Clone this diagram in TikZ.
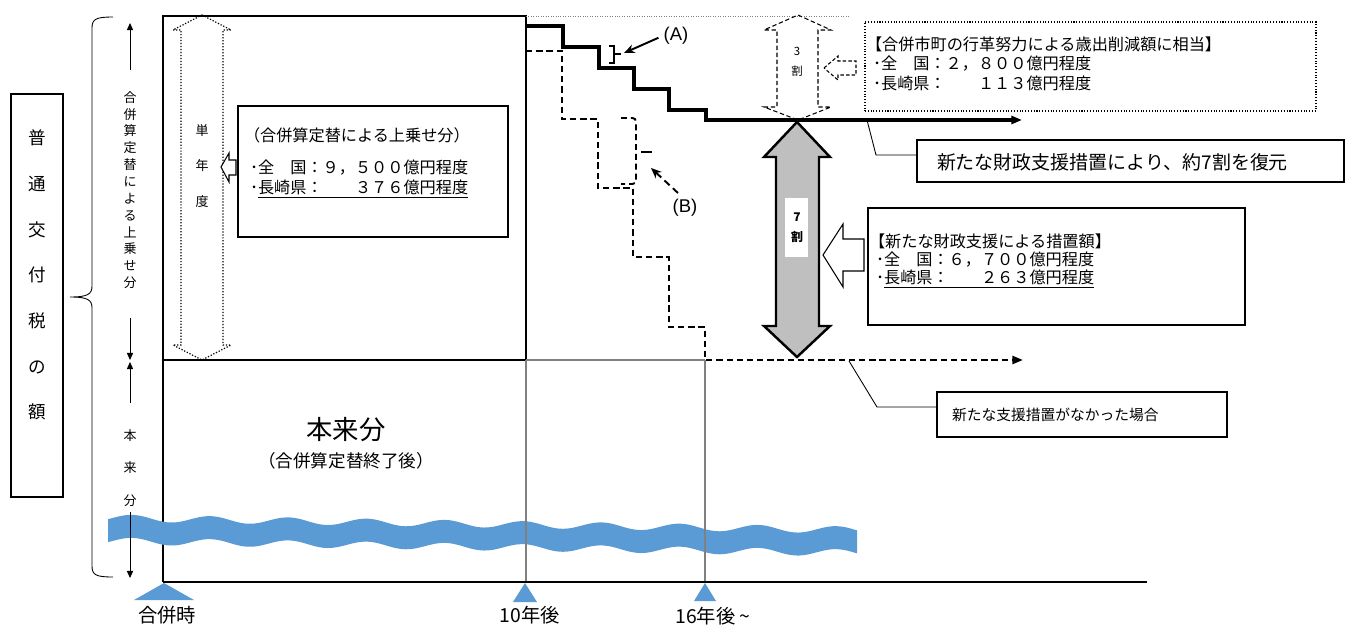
\documentclass[tikz,border=0pt]{standalone}
\usepackage{fontspec}
\setmainfont{Noto Sans CJK JP}
\newfontfamily\latinfont{Liberation Sans}
\usetikzlibrary{arrows.meta,fit}
\definecolor{wavec}{HTML}{5B9BD5}
\definecolor{linegray}{HTML}{808080}
\definecolor{arrowgray}{HTML}{BFBFBF}
\newcommand{\myfs}[2]{\fontsize{#1}{#2}\selectfont}
\begin{document}
\begin{tikzpicture}[x=0.02cm,y=-0.02cm,
  every node/.style={inner sep=0pt, outer sep=0pt},
  boxline/.style={draw, line width=0.6pt},
  heavy/.style={line width=1.2pt},
  stair/.style={line width=2pt, line join=miter},
  dstair/.style={line width=1.4pt, dash pattern=on 3.6pt off 2.2pt},
  thinarrow/.style={line width=0.5pt, -{Triangle[length=4pt,width=3.5pt]}},
  endarrow/.style={-{Triangle[length=6pt,width=4.5pt]}},
  greyline/.style={draw=linegray, line width=0.8pt},
  boxtext/.style={anchor=west, font=\myfs{9.2}{11}},
  blockline/.style={line width=0.6pt, fill=white, line join=miter}
]
\useasboundingbox (0,0) rectangle (1346,626);

% ---- left label box
\node[fit={(11,94) (63,497)}, draw, line width=0.9pt] (sumbox) {};
\node[font=\myfs{10}{26}, align=center] (sumtxt) at (37,275) {普\\通\\交\\付\\税\\の\\額};

% ---- brace
\draw[line width=0.5pt] (113,17) .. controls (96,17) and (92,19) .. (92,28) -- (92,286)
  .. controls (92,294) and (88,297) .. (70,297)
  .. controls (88,297) and (92,300) .. (92,308) -- (92,566)
  .. controls (92,575) and (96,577) .. (113,577);

% ---- main frame
\draw[heavy] (163,16) rectangle (526,360);
\draw[heavy] (163,360) -- (163,582);
\draw[greyline] (526,360) -- (705,360);
\draw[line width=0.4pt, linegray, densely dotted] (526,16) -- (850,16);

% ---- wave band
\fill[wavec] plot[domain=108:857, samples=220] (\x, {518+0.016*(\x-108)-3.5*cos(4.6*(\x-210))})
  -- plot[domain=857:108, samples=220] (\x, {541+0.016*(\x-108)-3.5*cos(4.6*(\x-210))}) -- cycle;

\draw[greyline] (526,360) -- (526,582);
\draw[greyline] (705,360) -- (705,582);
\draw[line width=1.3pt] (163,582) -- (1147,582);

% ---- axis markers
\fill[wavec] (164,583) -- (194,600) -- (134,600) -- cycle;
\fill[wavec] (525,583) -- (537,602) -- (513,602) -- cycle;
\fill[wavec] (705,583) -- (716,601) -- (694,601) -- cycle;
\node[font=\myfs{11}{13}] (t0) at (167,615) {合併時};
\node[font=\myfs{11}{13}] (t10) at (530,615) {10年後};
\node[font=\myfs{11}{13}] (t16) at (713,616) {16年後 {\textasciitilde}};

% ---- left vertical arrows and labels
\coordinate (a1s) at (130,70);  \coordinate (a1e) at (130,23);
\coordinate (a2s) at (130,318); \coordinate (a2e) at (130,360);
\coordinate (a3s) at (130,403); \coordinate (a3e) at (130,362);
\coordinate (a4s) at (130,512); \coordinate (a4e) at (130,578);
\draw[thinarrow] (a1s) -- (a1e);
\draw[thinarrow] (a2s) -- (a2e);
\draw[thinarrow] (a3s) -- (a3e);
\draw[thinarrow] (a4s) -- (a4e);
\node[font=\myfs{7.4}{9.6}, align=center] (vt1) at (130,190) {合\\併\\算\\定\\替\\に\\よ\\る\\上\\乗\\せ\\分};
\node[font=\myfs{7.4}{18.4}, align=center] (vt2) at (130,468) {本\\来\\分};

% ---- single-year dotted double arrow
\draw[line width=0.7pt, densely dotted, line join=miter] (202,15) -- (231,30) -- (223,30) -- (223,345) -- (231,345)
  -- (202,360) -- (173,345) -- (181,345) -- (181,30) -- (173,30) -- cycle;
\node[font=\myfs{7.4}{20.4}, align=center] (vt3) at (202,166) {単\\年\\度};
\draw[blockline] (221,167) -- (229,153) -- (229,160) -- (236,160) -- (236,175) -- (229,175) -- (229,182) -- cycle;

% ---- box 1
\node[fit={(238,106) (508,237)}, boxline] (box1) {};
\node[boxtext] (b1t) at (244,135) {（合併算定替による上乗せ分）};
\node[boxtext] (b1a) at (250,168) {･全　国：９，５００億円程度};
\node[boxtext] (b1b) at (250,189) {･\underline{長崎県：　　３７６億円程度}};

% ---- base part label
\node[font=\myfs{15}{17}] (hon) at (346,430) {本来分};
\node[font=\myfs{10}{12}] (honsub) at (346,461) {（合併算定替終了後）};

% ---- solid staircase
\draw[stair, endarrow] (526,26) -- (563,26) -- (563,47) -- (599,47) -- (599,68) -- (634,68) -- (634,89)
  -- (669,89) -- (669,110) -- (706,110) -- (706,120) -- (1022,120);
% ---- dashed staircase
\draw[dstair, endarrow] (526,51) -- (562,51) -- (562,119) -- (598,119) -- (598,188) -- (633,188) -- (633,257)
  -- (669,257) -- (669,327) -- (705,327) -- (705,360) -- (1023,360);

% ---- (A)
\draw[line width=1.1pt, line join=miter] (609,46) -- (614,46) -- (614,63) -- (609,63);
\draw[line width=1.1pt] (614,54) -- (621,54);
\node[font=\latinfont\myfs{10.5}{12}] (labA) at (676,36) {(A)};
\coordinate (bracketA) at (624,53);
\draw[line width=1.1pt, -{Stealth[length=6pt,width=5pt]}] ([xshift=-3pt,yshift=-1pt]labA.west) -- (bracketA);

% ---- (B)
\draw[line width=1.1pt, dash pattern=on 3.4pt off 2.2pt, rounded corners=2pt] (621,118) -- (636,118) -- (636,184) -- (621,184);
\draw[line width=1.1pt] (641,152) -- (652,152);
\node[font=\latinfont\myfs{10.5}{12}] (labB) at (685,208) {(B)};
\coordinate (bTail) at (678,193);
\coordinate (bHead) at (651,168);
\draw[line width=1.1pt, dash pattern=on 4pt off 2.5pt, -{Stealth[length=6pt,width=5pt]}] (bTail) -- (bHead);

% ---- 30% dashed double arrow
\draw[line width=0.6pt, dash pattern=on 2.5pt off 1.5pt, line join=miter] (798,15) -- (831,30) -- (818,30) -- (818,107) -- (831,107)
  -- (798,120) -- (764,107) -- (777,107) -- (777,30) -- (764,30) -- cycle;
\node[font=\myfs{6.5}{11.3}, align=center] (three) at (797,62) {3\\割};
\draw[line width=0.6pt, dash pattern=on 2pt off 1.2pt, line join=miter] (824,68) -- (838,56) -- (838,61) -- (856,61)
  -- (856,75) -- (838,75) -- (838,80) -- cycle;

% ---- box 2 (dotted)
\node[fit={(865,22) (1316,111)}, draw, densely dotted, line width=0.6pt] (box2) {};
\node[boxtext] (b2t) at (866,44) {【合併市町の行革努力による歳出削減額に相当】};
\node[boxtext] (b2a) at (873,64) {･全　国：２，８００億円程度};
\node[boxtext] (b2b) at (873,83) {･長崎県：　　１１３億円程度};

% ---- 70% grey double arrow
\draw[line width=1.4pt, fill=arrowgray, line join=miter] (797,122) -- (830,157) -- (819,157) -- (819,326) -- (830,326)
  -- (797,357) -- (764,326) -- (776,326) -- (776,157) -- (764,157) -- cycle;
\fill[white] (785,198) rectangle (808,257);
\node[font=\bfseries\myfs{6.8}{11.3}, align=center] (seven) at (797,228) {7\\割};
\draw[blockline] (823,255) -- (843,224) -- (843,239) -- (864,239) -- (864,271) -- (843,271) -- (843,287) -- cycle;

% ---- box 3
\node[fit={(868,208) (1245,325)}, boxline] (box3) {};
\node[boxtext] (b3t) at (869,241) {【新たな財政支援による措置額】};
\node[boxtext] (b3a) at (876,260) {･全　国：６，７００億円程度};
\node[boxtext] (b3b) at (876,279) {･\underline{長崎県：　　２６３億円程度}};

% ---- box 4 and callout
\node[fit={(917,140) (1344,182)}, boxline] (box4) {};
\node[anchor=west, font=\myfs{10.8}{13}] (b4t) at (937,162) {新たな財政支援措置により、約7割を復元};
\coordinate (c4a) at (867,120);
\coordinate (c4b) at (876,155);
\draw[line width=0.5pt] (c4a) -- (c4b) -- (c4b -| box4.west);

% ---- box 5 and callout
\node[fit={(937,392) (1227,437)}, boxline] (box5) {};
\node[anchor=west, font=\myfs{8.4}{10}] (b5t) at (952,415) {新たな支援措置がなかった場合};
\coordinate (c5a) at (849,361);
\coordinate (c5b) at (877,407);
\draw[line width=0.5pt] (c5a) -- (c5b) -- (c5b -| box5.west);
\end{tikzpicture}
\end{document}
